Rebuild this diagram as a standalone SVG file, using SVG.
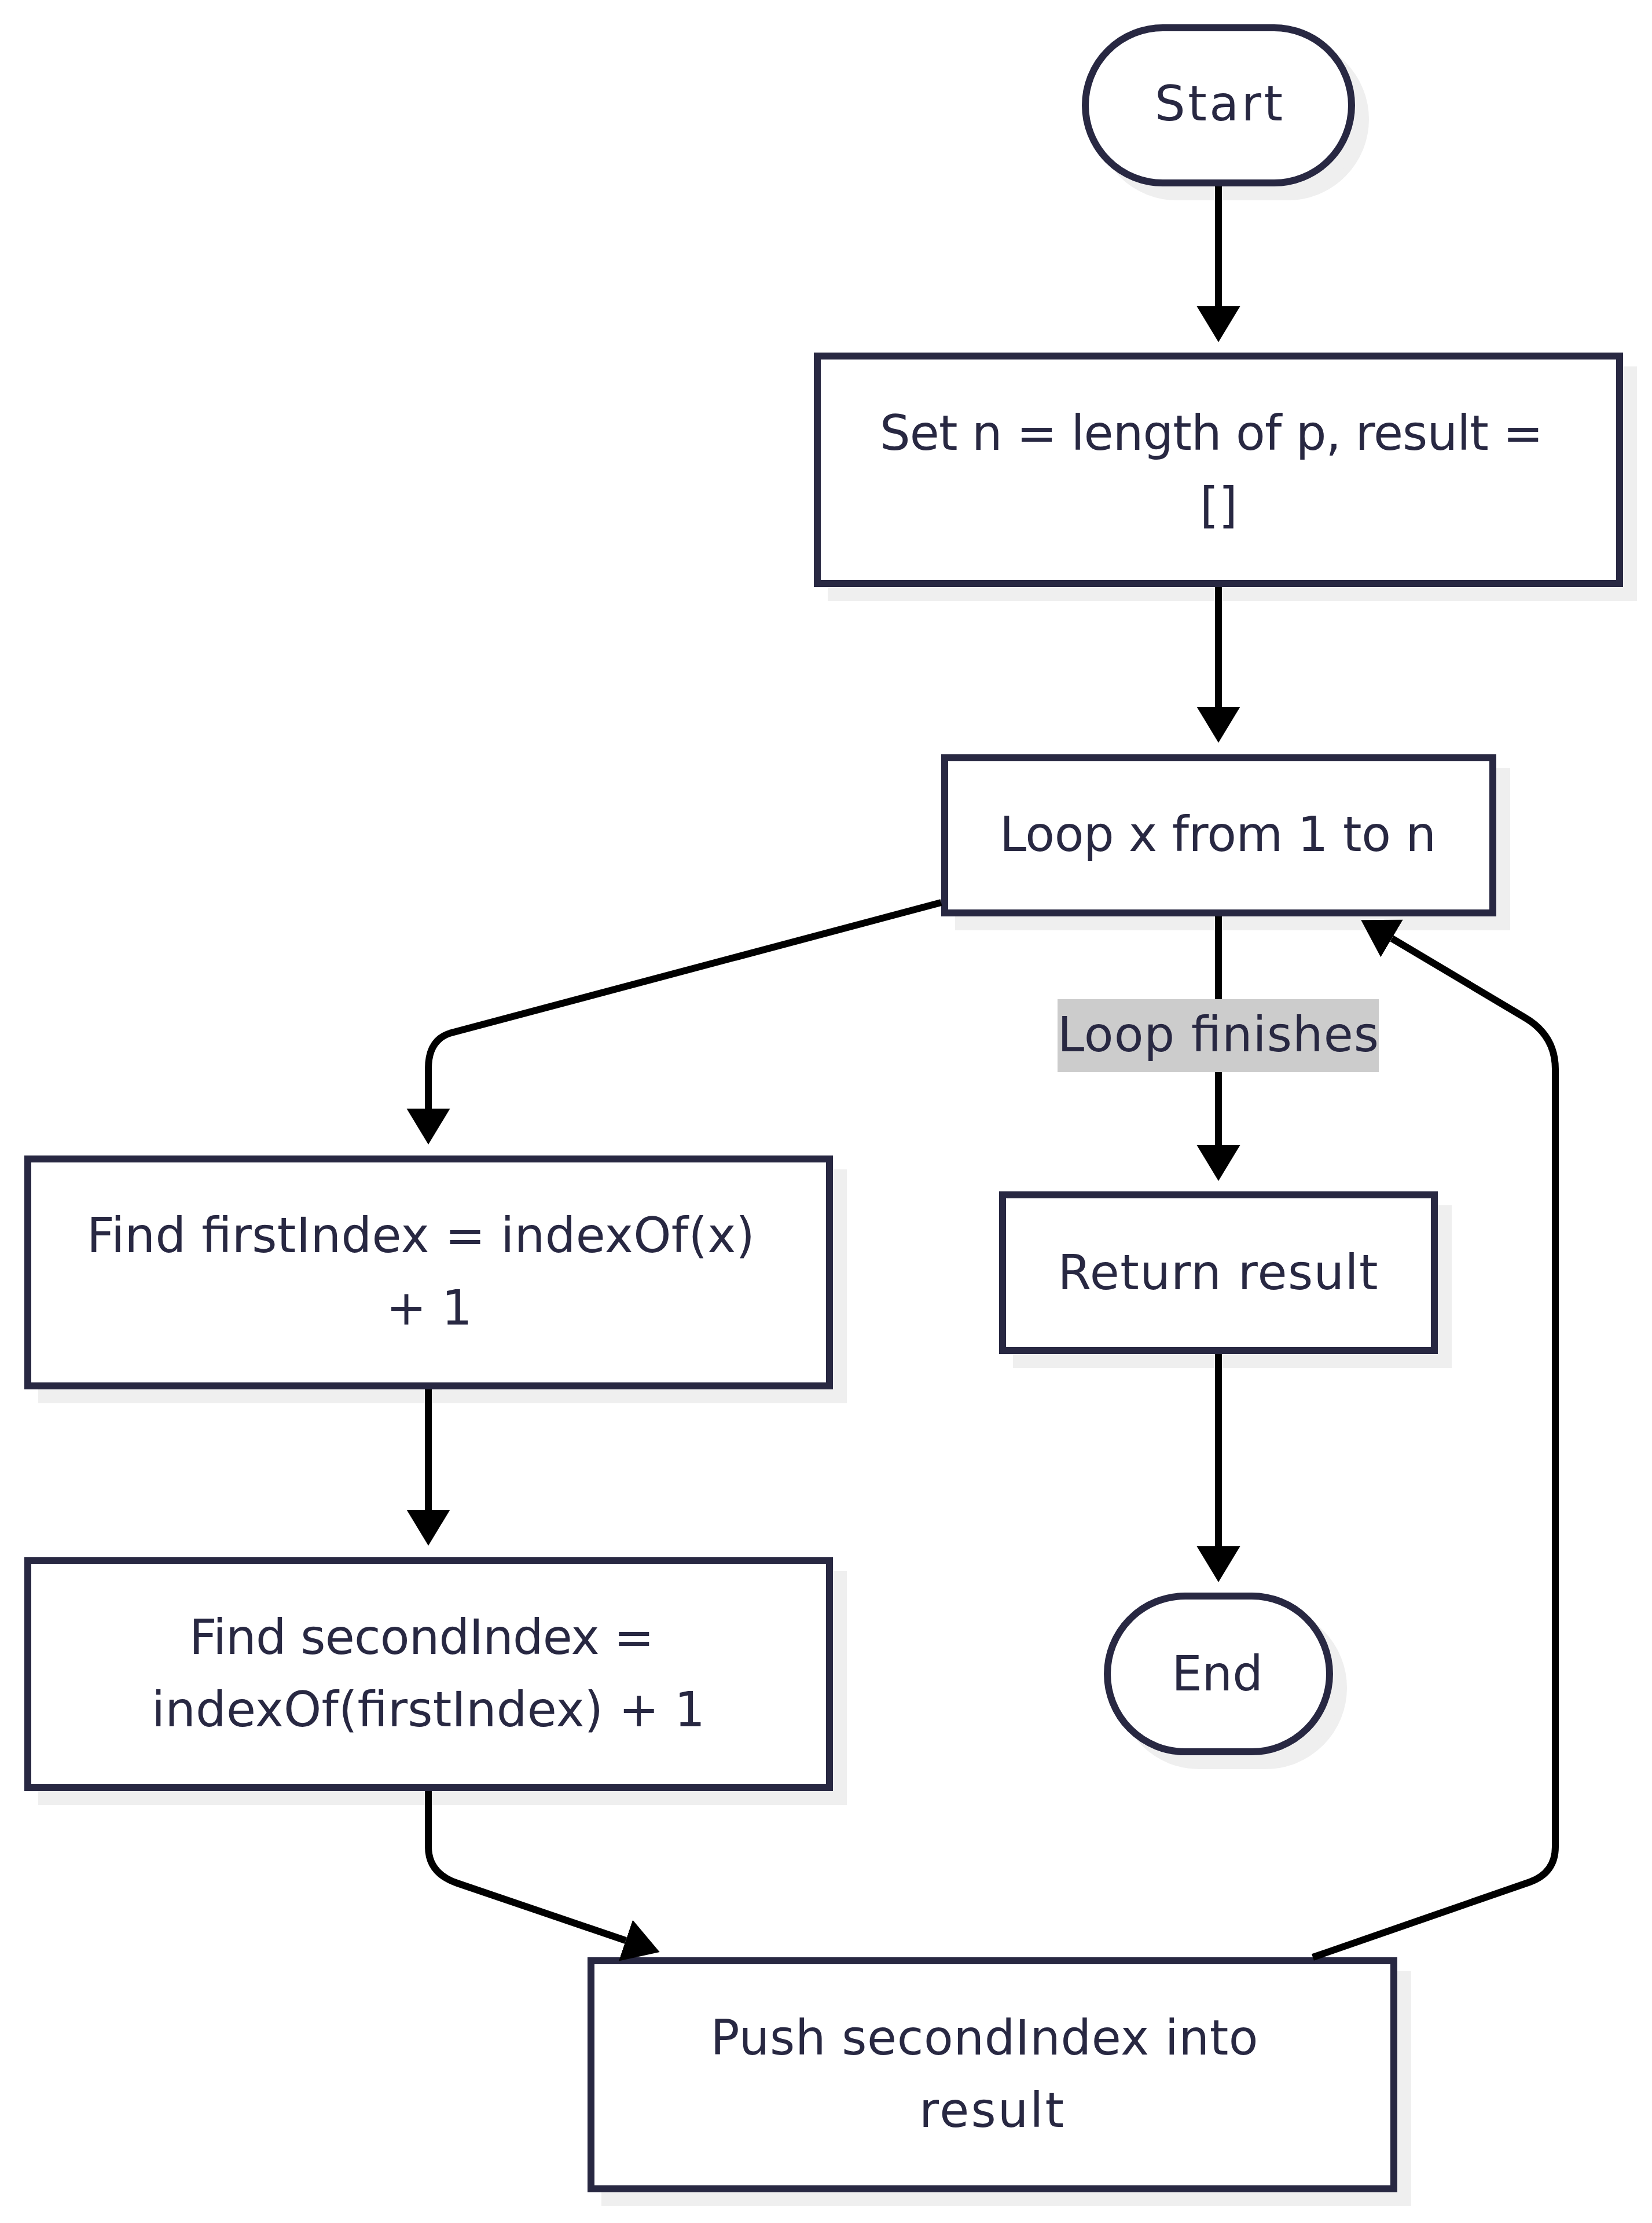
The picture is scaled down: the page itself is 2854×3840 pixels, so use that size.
<svg xmlns="http://www.w3.org/2000/svg" width="2854" height="3840" viewBox="0 0 2854 3840">
<defs>
<style>
.shadow{fill:#efefef;stroke:#efefef;stroke-width:12}
.node{fill:#ffffff;stroke:#282842;stroke-width:12}
.t{font-family:"DejaVu Sans","Liberation Sans",sans-serif;font-size:83px;fill:#282842;text-anchor:middle}
.edge{fill:none;stroke:#000000;stroke-width:12;stroke-linejoin:round}
.lbl{fill:#cccccc}
</style>
<marker id="ah" markerUnits="userSpaceOnUse" markerWidth="70" markerHeight="80" viewBox="0 -40 70 80" refX="0" refY="0" orient="auto">
<path d="M0,-37.5 L62,0 L0,37.5 z" fill="#000000"/>
</marker>
</defs>
<rect width="2854" height="3840" fill="#ffffff"/>
<g id="shadows">
<rect class="shadow" x="1899" y="72" width="460" height="268" rx="134" ry="134"/>
<rect class="shadow" x="1436" y="639" width="1386" height="393"/>
<rect class="shadow" x="1656" y="1333" width="947" height="268"/>
<rect class="shadow" x="72" y="2026" width="1385" height="392"/>
<rect class="shadow" x="1756" y="2088" width="746" height="269"/>
<rect class="shadow" x="72" y="2720" width="1385" height="392"/>
<rect class="shadow" x="1937" y="2781" width="384" height="269" rx="134.5" ry="134.5"/>
<rect class="shadow" x="1045" y="3411" width="1387" height="394"/>
</g>
<g id="node-start">
<rect class="node" x="1875" y="48" width="460" height="268" rx="134" ry="134"/>
<text class="t" x="2105.5" y="208" textLength="221">Start</text>
</g>
<g id="node-set">
<rect class="node" x="1412" y="615" width="1386" height="393"/>
<text class="t" x="2093" y="777" textLength="1146">Set n = length of p, result =</text>
<text class="t" x="2105.5" y="902">[]</text>
</g>
<g id="node-loop">
<rect class="node" x="1632" y="1309" width="947" height="268"/>
<text class="t" x="2104" y="1470" textLength="754">Loop x from 1 to n</text>
</g>
<g id="node-find-first">
<rect class="node" x="48" y="2002" width="1385" height="392"/>
<text class="t" x="727" y="2163" textLength="1154">Find firstIndex = indexOf(x)</text>
<text class="t" x="741.5" y="2288">+ 1</text>
</g>
<g id="node-return">
<rect class="node" x="1732" y="2064" width="746" height="269"/>
<text class="t" x="2104" y="2227" textLength="553">Return result</text>
</g>
<g id="node-find-second">
<rect class="node" x="48" y="2696" width="1385" height="392"/>
<text class="t" x="728.5" y="2857" textLength="803">Find secondIndex =</text>
<text class="t" x="740" y="2982" textLength="956">indexOf(firstIndex) + 1</text>
</g>
<g id="node-end">
<rect class="node" x="1913" y="2757" width="384" height="269" rx="134.5" ry="134.5"/>
<text class="t" x="2103" y="2920">End</text>
</g>
<g id="node-push">
<rect class="node" x="1021" y="3387" width="1387" height="394"/>
<text class="t" x="1700.6" y="3549" textLength="946">Push secondIndex into</text>
<text class="t" x="1713" y="3674" textLength="250">result</text>
</g>
<g id="connectors">
<path class="edge" marker-end="url(#ah)" d="M2105,322 L2105,529"/>
<path class="edge" marker-end="url(#ah)" d="M2105,1014 L2105,1221"/>
<path class="edge" marker-end="url(#ah)" d="M2105,1583 L2105,1978"/>
<path class="edge" marker-end="url(#ah)" d="M2105,2339 L2105,2671"/>
<path class="edge" marker-end="url(#ah)" d="M1626,1559 L780,1784 Q740,1795 740,1846 L740,1915"/>
<path class="edge" marker-end="url(#ah)" d="M740,2400 L740,2608"/>
<path class="edge" marker-end="url(#ah)" d="M740,3094 L740,3190 Q740,3236 790,3253 L1081,3352"/>
<path class="edge" marker-end="url(#ah)" d="M2268,3381 L2643,3251 Q2687,3235 2687,3190 L2687,1847 Q2687,1788 2633,1757 L2404.5,1621"/>
</g>
<g id="edge-labels">
<rect class="lbl" x="1827" y="1726" width="555" height="126"/>
<text class="t" x="2104.5" y="1816" textLength="555">Loop finishes</text>
</g>
</svg>
